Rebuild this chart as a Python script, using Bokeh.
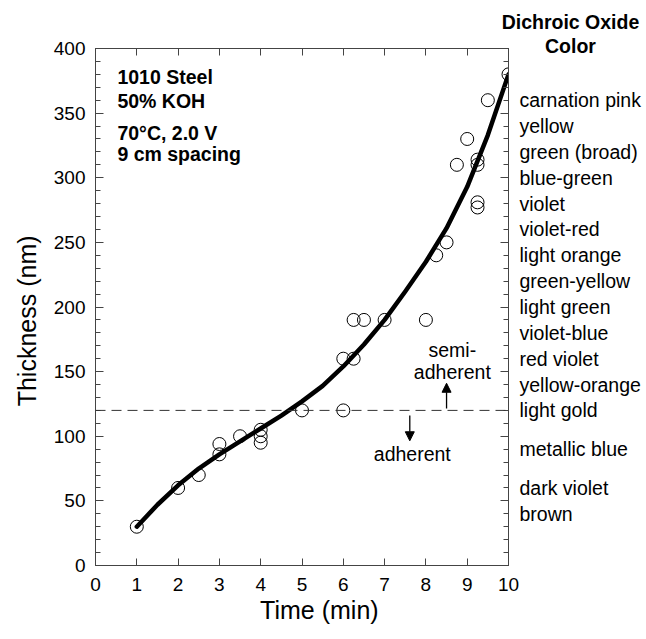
from bokeh.plotting import figure
from bokeh.models import (Range1d, LinearAxis, SingleIntervalTicker, FixedTicker, Label,
                          Arrow, NormalHead, Span, CustomJSTickFormatter)
from bokeh.embed import file_html
from bokeh.resources import INLINE

# ---- data ----
time_min = [1, 2, 2.5, 3, 3, 3.5, 4, 4, 4, 5, 6, 6, 6.25, 6.25, 6.5, 7, 8,
            8.25, 8.5, 8.75, 9, 9.25, 9.25, 9.25, 9.25, 9.5, 10]
thickness_nm = [30, 60, 70, 86, 94, 100, 105, 100, 95, 120, 120, 160, 160, 190, 190, 190, 190,
                240, 250, 310, 330, 314, 310, 281, 277, 360, 380]

fit_time = [1, 1.5, 2, 2.5, 3, 3.5, 4, 4.5, 5, 5.5, 6, 6.5, 7, 7.5, 8, 8.5, 9, 9.5, 10]
fit_thickness = [30, 47, 62, 75, 86, 96, 106, 116, 127, 139, 154, 171, 190, 212, 235, 261, 293, 333, 380]

adherence_limit = 120

oxide_colors = ["carnation pink", "yellow", "green (broad)", "blue-green", "violet",
                "violet-red", "light orange", "green-yellow", "light green", "violet-blue",
                "red violet", "yellow-orange", "light gold", "metallic blue", "dark violet", "brown"]
oxide_thickness = [360, 340, 320, 300, 280, 260, 240, 220, 200, 180, 160, 140, 120, 90, 60, 40]

FONT = "Liberation Sans"
AX = "#444444"
NB = "\u00a0"

p = figure(width=646, height=639, output_backend="svg", toolbar_location=None,
           x_range=Range1d(0, 10), y_range=Range1d(0, 400),
           min_border_left=95, min_border_right=138, min_border_top=48, min_border_bottom=74,
           x_axis_type=None, y_axis_type=None)
p.grid.visible = False
p.outline_line_color = AX
p.background_fill_color = "white"
p.border_fill_color = "white"

blank = CustomJSTickFormatter(code="return ''")

def style_axis(ax, show_labels):
    ax.axis_line_color = AX
    ax.axis_line_width = 1
    ax.major_tick_line_color = AX
    ax.minor_tick_line_color = AX
    ax.major_tick_out = 0
    ax.minor_tick_out = 0
    ax.major_tick_in = 8
    ax.minor_tick_in = 5
    ax.major_label_text_font = FONT
    ax.major_label_text_color = "black"
    ax.major_label_text_font_size = "19px"
    ax.axis_label_text_font = FONT
    ax.axis_label_text_font_size = "25px"
    ax.axis_label_text_font_style = "normal"
    ax.axis_label_text_color = "black"
    if not show_labels:
        ax.formatter = blank
        ax.major_label_standoff = 0
        ax.major_label_text_font_size = "1px"

xb = LinearAxis(ticker=SingleIntervalTicker(interval=1, num_minor_ticks=0))
style_axis(xb, True)
xb.major_tick_in = 7
xb.major_label_standoff = 12
xb.axis_label = NB * 5 + "Time (min)"
xb.axis_label_standoff = 2
xt = LinearAxis(ticker=SingleIntervalTicker(interval=1, num_minor_ticks=0))
style_axis(xt, False)
xt.major_tick_in = 7
yl = LinearAxis(ticker=SingleIntervalTicker(interval=50, num_minor_ticks=5))
style_axis(yl, True)
yl.major_label_standoff = 10
yl.axis_label = "Thickness (nm)" + NB * 4
yl.axis_label_standoff = 10
yr = LinearAxis(ticker=SingleIntervalTicker(interval=50, num_minor_ticks=5))
style_axis(yr, False)

# colour scale on the right: labels placed at their thickness values
yc = LinearAxis(ticker=FixedTicker(ticks=oxide_thickness, minor_ticks=[]),
                major_label_overrides={t: c for t, c in zip(oxide_thickness, oxide_colors)})
yc.axis_line_color = None
yc.major_tick_line_color = None
yc.minor_tick_line_color = None
yc.major_tick_in = 0
yc.major_tick_out = 0
yc.major_label_standoff = 11
yc.major_label_text_font = FONT
yc.major_label_text_font_size = "19.5px"
yc.major_label_text_color = "black"

p.add_layout(xb, "below")
p.add_layout(xt, "above")
p.add_layout(yl, "left")
p.add_layout(yr, "right")
p.add_layout(yc, "right")

# header above the colour scale (data-positioned labels kept in the top panel so they are not clipped)
for txt_, yy in [("Color", 402.3), ("Dichroic Oxide", 420.3)]:
    p.add_layout(Label(x=11.5, y=yy, text=txt_, text_font=FONT, text_font_size="19.5px",
                       text_font_style="bold", text_align="center", text_baseline="middle",
                       text_color="black"), "above")

# adherence boundary
p.add_layout(Span(location=adherence_limit, dimension="width", line_color="#333333",
                  line_width=1, line_dash="10 6"))

# fitted curve and data
p.line(fit_time, fit_thickness, line_color="black", line_width=4.5, line_join="round", line_cap="round")
p.scatter(time_min, thickness_nm, size=13, marker="circle", fill_color=None,
          line_color="black", line_width=1)

# arrows
p.add_layout(Arrow(end=NormalHead(size=9, fill_color="black", line_color="black"),
                   x_start=8.5, y_start=121.5, x_end=8.5, y_end=141,
                   line_color="black", line_width=1.3))
p.add_layout(Arrow(end=NormalHead(size=9, fill_color="black", line_color="black"),
                   x_start=7.61, y_start=116, x_end=7.61, y_end=96.5,
                   line_color="black", line_width=1.3))

def txt(x, y, s, size="19.5px", bold=False, align="left"):
    p.add_layout(Label(x=x, y=y, text=s, text_font=FONT, text_font_size=size,
                       text_font_style="bold" if bold else "normal",
                       text_align=align, text_baseline="middle", text_color="black"))

# condition block
txt(0.53, 378, "1010 Steel", bold=True)
txt(0.53, 359.5, "50% KOH", bold=True)
txt(0.53, 335, "70\u00b0C, 2.0 V", bold=True)
txt(0.53, 318.5, "9 cm spacing", bold=True)

# adherence annotations
txt(8.64, 167, "semi-", align="center")
txt(8.64, 150, "adherent", align="center")
txt(7.67, 86, "adherent", align="center")

open("out.html", "w").write(file_html(p, INLINE))
